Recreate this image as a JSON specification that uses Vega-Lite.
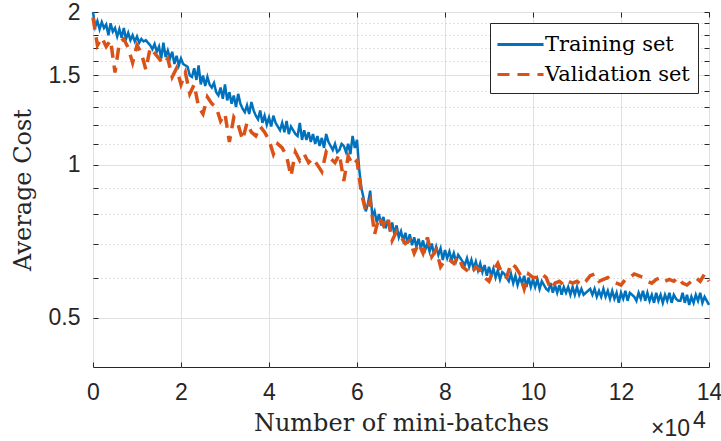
{
  "$schema": "https://vega.github.io/schema/vega-lite/v6.json",
  "width": 616,
  "height": 355,
  "autosize": {"type": "none"},
  "padding": {"left": 93, "top": 12, "right": 12, "bottom": 74},
  "background": "white",
  "config": {
    "view": {"stroke": "#262626", "strokeWidth": 1},
    "axis": {
      "labelFont": "Liberation Sans",
      "labelFontSize": 23,
      "labelColor": "#262626",
      "titleFont": "DejaVu Serif",
      "titleFontSize": 24,
      "titleFontWeight": "normal",
      "titleColor": "#262626",
      "domain": false,
      "tickColor": "#262626",
      "tickWidth": 1,
      "labelOverlap": false,
      "labelFlush": false
    }
  },
  "datasets": {
    "train": [
      {"b": 0, "c": 2.0}, {"b": 0.05, "c": 1.87}, {"b": 0.1, "c": 1.92}, {"b": 0.15, "c": 1.85}, {"b": 0.2, "c": 1.91},
      {"b": 0.25, "c": 1.86}, {"b": 0.3, "c": 1.89}, {"b": 0.35, "c": 1.8}, {"b": 0.4, "c": 1.9}, {"b": 0.45, "c": 1.83},
      {"b": 0.5, "c": 1.86}, {"b": 0.55, "c": 1.79}, {"b": 0.6, "c": 1.85}, {"b": 0.65, "c": 1.78}, {"b": 0.7, "c": 1.86},
      {"b": 0.75, "c": 1.77}, {"b": 0.8, "c": 1.82}, {"b": 0.85, "c": 1.76}, {"b": 0.9, "c": 1.8}, {"b": 0.95, "c": 1.75},
      {"b": 1.0, "c": 1.79}, {"b": 1.05, "c": 1.74}, {"b": 1.1, "c": 1.77}, {"b": 1.15, "c": 1.75}, {"b": 1.2, "c": 1.76},
      {"b": 1.25, "c": 1.74}, {"b": 1.3, "c": 1.72}, {"b": 1.35, "c": 1.69}, {"b": 1.4, "c": 1.73}, {"b": 1.45, "c": 1.67},
      {"b": 1.5, "c": 1.71}, {"b": 1.55, "c": 1.62}, {"b": 1.6, "c": 1.74}, {"b": 1.65, "c": 1.63}, {"b": 1.7, "c": 1.68},
      {"b": 1.75, "c": 1.62}, {"b": 1.8, "c": 1.67}, {"b": 1.85, "c": 1.58}, {"b": 1.9, "c": 1.64}, {"b": 1.95, "c": 1.57},
      {"b": 2.0, "c": 1.62}, {"b": 2.05, "c": 1.58}, {"b": 2.1, "c": 1.57}, {"b": 2.15, "c": 1.56}, {"b": 2.2, "c": 1.5},
      {"b": 2.25, "c": 1.49}, {"b": 2.3, "c": 1.55}, {"b": 2.35, "c": 1.47}, {"b": 2.4, "c": 1.57}, {"b": 2.45, "c": 1.44},
      {"b": 2.5, "c": 1.5}, {"b": 2.55, "c": 1.43}, {"b": 2.6, "c": 1.49}, {"b": 2.65, "c": 1.44}, {"b": 2.7, "c": 1.42},
      {"b": 2.75, "c": 1.45}, {"b": 2.8, "c": 1.39}, {"b": 2.85, "c": 1.37}, {"b": 2.9, "c": 1.42}, {"b": 2.95, "c": 1.35},
      {"b": 3.0, "c": 1.44}, {"b": 3.05, "c": 1.34}, {"b": 3.1, "c": 1.39}, {"b": 3.15, "c": 1.32}, {"b": 3.2, "c": 1.37},
      {"b": 3.25, "c": 1.3}, {"b": 3.3, "c": 1.38}, {"b": 3.35, "c": 1.32}, {"b": 3.4, "c": 1.29}, {"b": 3.45, "c": 1.27},
      {"b": 3.5, "c": 1.31}, {"b": 3.55, "c": 1.26}, {"b": 3.6, "c": 1.33}, {"b": 3.65, "c": 1.28}, {"b": 3.7, "c": 1.25},
      {"b": 3.75, "c": 1.23}, {"b": 3.8, "c": 1.28}, {"b": 3.85, "c": 1.21}, {"b": 3.9, "c": 1.25}, {"b": 3.95, "c": 1.2},
      {"b": 4.0, "c": 1.24}, {"b": 4.05, "c": 1.19}, {"b": 4.1, "c": 1.25}, {"b": 4.15, "c": 1.21}, {"b": 4.2, "c": 1.19},
      {"b": 4.25, "c": 1.17}, {"b": 4.3, "c": 1.21}, {"b": 4.35, "c": 1.16}, {"b": 4.4, "c": 1.22}, {"b": 4.45, "c": 1.15},
      {"b": 4.5, "c": 1.19}, {"b": 4.55, "c": 1.17}, {"b": 4.6, "c": 1.15}, {"b": 4.65, "c": 1.14}, {"b": 4.7, "c": 1.21},
      {"b": 4.75, "c": 1.12}, {"b": 4.8, "c": 1.17}, {"b": 4.85, "c": 1.12}, {"b": 4.9, "c": 1.16}, {"b": 4.95, "c": 1.11},
      {"b": 5.0, "c": 1.15}, {"b": 5.05, "c": 1.1}, {"b": 5.1, "c": 1.14}, {"b": 5.15, "c": 1.09}, {"b": 5.2, "c": 1.13},
      {"b": 5.25, "c": 1.08}, {"b": 5.3, "c": 1.15}, {"b": 5.35, "c": 1.11}, {"b": 5.4, "c": 1.09}, {"b": 5.45, "c": 1.07},
      {"b": 5.5, "c": 1.1}, {"b": 5.55, "c": 1.06}, {"b": 5.6, "c": 1.07}, {"b": 5.65, "c": 1.1}, {"b": 5.7, "c": 1.09},
      {"b": 5.75, "c": 1.06}, {"b": 5.8, "c": 1.1}, {"b": 5.85, "c": 1.05}, {"b": 5.9, "c": 1.14}, {"b": 5.95, "c": 1.08},
      {"b": 6.0, "c": 1.12}, {"b": 6.05, "c": 0.98}, {"b": 6.1, "c": 0.9}, {"b": 6.15, "c": 0.86}, {"b": 6.2, "c": 0.81},
      {"b": 6.25, "c": 0.84}, {"b": 6.3, "c": 0.89}, {"b": 6.35, "c": 0.79}, {"b": 6.4, "c": 0.81}, {"b": 6.45, "c": 0.77},
      {"b": 6.5, "c": 0.8}, {"b": 6.55, "c": 0.76}, {"b": 6.6, "c": 0.79}, {"b": 6.65, "c": 0.75}, {"b": 6.7, "c": 0.78},
      {"b": 6.75, "c": 0.74}, {"b": 6.8, "c": 0.77}, {"b": 6.85, "c": 0.73}, {"b": 6.9, "c": 0.76}, {"b": 6.95, "c": 0.72},
      {"b": 7.0, "c": 0.74}, {"b": 7.05, "c": 0.71}, {"b": 7.1, "c": 0.735}, {"b": 7.15, "c": 0.7}, {"b": 7.2, "c": 0.73},
      {"b": 7.25, "c": 0.695}, {"b": 7.3, "c": 0.72}, {"b": 7.35, "c": 0.69}, {"b": 7.4, "c": 0.715}, {"b": 7.45, "c": 0.685},
      {"b": 7.5, "c": 0.71}, {"b": 7.55, "c": 0.68}, {"b": 7.6, "c": 0.7}, {"b": 7.65, "c": 0.675}, {"b": 7.7, "c": 0.7},
      {"b": 7.75, "c": 0.665}, {"b": 7.8, "c": 0.69}, {"b": 7.85, "c": 0.665}, {"b": 7.9, "c": 0.685}, {"b": 7.95, "c": 0.65},
      {"b": 8.0, "c": 0.68}, {"b": 8.05, "c": 0.655}, {"b": 8.1, "c": 0.675}, {"b": 8.15, "c": 0.65}, {"b": 8.2, "c": 0.67},
      {"b": 8.25, "c": 0.645}, {"b": 8.3, "c": 0.665}, {"b": 8.35, "c": 0.655}, {"b": 8.4, "c": 0.645}, {"b": 8.45, "c": 0.635},
      {"b": 8.5, "c": 0.655}, {"b": 8.55, "c": 0.63}, {"b": 8.6, "c": 0.65}, {"b": 8.65, "c": 0.625}, {"b": 8.7, "c": 0.645},
      {"b": 8.75, "c": 0.62}, {"b": 8.8, "c": 0.64}, {"b": 8.85, "c": 0.615}, {"b": 8.9, "c": 0.635}, {"b": 8.95, "c": 0.605},
      {"b": 9.0, "c": 0.63}, {"b": 9.05, "c": 0.605}, {"b": 9.1, "c": 0.625}, {"b": 9.15, "c": 0.6}, {"b": 9.2, "c": 0.62},
      {"b": 9.25, "c": 0.595}, {"b": 9.3, "c": 0.615}, {"b": 9.35, "c": 0.61}, {"b": 9.4, "c": 0.6}, {"b": 9.45, "c": 0.59},
      {"b": 9.5, "c": 0.61}, {"b": 9.55, "c": 0.585}, {"b": 9.6, "c": 0.605}, {"b": 9.65, "c": 0.58}, {"b": 9.7, "c": 0.6},
      {"b": 9.75, "c": 0.585}, {"b": 9.8, "c": 0.605}, {"b": 9.85, "c": 0.575}, {"b": 9.9, "c": 0.6}, {"b": 9.95, "c": 0.575},
      {"b": 10.0, "c": 0.595}, {"b": 10.05, "c": 0.575}, {"b": 10.1, "c": 0.595}, {"b": 10.15, "c": 0.57}, {"b": 10.2, "c": 0.59},
      {"b": 10.25, "c": 0.58}, {"b": 10.3, "c": 0.57}, {"b": 10.35, "c": 0.565}, {"b": 10.4, "c": 0.585}, {"b": 10.45, "c": 0.56},
      {"b": 10.5, "c": 0.58}, {"b": 10.55, "c": 0.56}, {"b": 10.6, "c": 0.58}, {"b": 10.65, "c": 0.555}, {"b": 10.7, "c": 0.575},
      {"b": 10.75, "c": 0.56}, {"b": 10.8, "c": 0.575}, {"b": 10.85, "c": 0.555}, {"b": 10.9, "c": 0.575}, {"b": 10.95, "c": 0.555},
      {"b": 11.0, "c": 0.575}, {"b": 11.05, "c": 0.555}, {"b": 11.1, "c": 0.57}, {"b": 11.15, "c": 0.555}, {"b": 11.2, "c": 0.56},
      {"b": 11.25, "c": 0.565}, {"b": 11.3, "c": 0.57}, {"b": 11.35, "c": 0.555}, {"b": 11.4, "c": 0.57}, {"b": 11.45, "c": 0.55},
      {"b": 11.5, "c": 0.565}, {"b": 11.55, "c": 0.55}, {"b": 11.6, "c": 0.57}, {"b": 11.65, "c": 0.55}, {"b": 11.7, "c": 0.565},
      {"b": 11.75, "c": 0.545}, {"b": 11.8, "c": 0.565}, {"b": 11.85, "c": 0.545}, {"b": 11.9, "c": 0.56}, {"b": 11.95, "c": 0.535},
      {"b": 12.0, "c": 0.56}, {"b": 12.05, "c": 0.545}, {"b": 12.1, "c": 0.565}, {"b": 12.15, "c": 0.54}, {"b": 12.2, "c": 0.56},
      {"b": 12.25, "c": 0.555}, {"b": 12.3, "c": 0.55}, {"b": 12.35, "c": 0.54}, {"b": 12.4, "c": 0.56}, {"b": 12.45, "c": 0.545},
      {"b": 12.5, "c": 0.565}, {"b": 12.55, "c": 0.54}, {"b": 12.6, "c": 0.56}, {"b": 12.65, "c": 0.54}, {"b": 12.7, "c": 0.555},
      {"b": 12.75, "c": 0.535}, {"b": 12.8, "c": 0.56}, {"b": 12.85, "c": 0.54}, {"b": 12.9, "c": 0.555}, {"b": 12.95, "c": 0.535},
      {"b": 13.0, "c": 0.555}, {"b": 13.05, "c": 0.54}, {"b": 13.1, "c": 0.56}, {"b": 13.15, "c": 0.535}, {"b": 13.2, "c": 0.555},
      {"b": 13.25, "c": 0.545}, {"b": 13.3, "c": 0.54}, {"b": 13.35, "c": 0.54}, {"b": 13.4, "c": 0.56}, {"b": 13.45, "c": 0.535},
      {"b": 13.5, "c": 0.555}, {"b": 13.55, "c": 0.53}, {"b": 13.6, "c": 0.55}, {"b": 13.65, "c": 0.535}, {"b": 13.7, "c": 0.555},
      {"b": 13.75, "c": 0.54}, {"b": 13.8, "c": 0.56}, {"b": 13.85, "c": 0.535}, {"b": 13.9, "c": 0.55}, {"b": 13.95, "c": 0.54},
      {"b": 14.0, "c": 0.53}
    ],
    "val": [
      {"b": 0, "c": 1.95}, {"b": 0.1, "c": 1.72}, {"b": 0.2, "c": 1.78}, {"b": 0.3, "c": 1.71}, {"b": 0.4, "c": 1.76},
      {"b": 0.5, "c": 1.52}, {"b": 0.6, "c": 1.74}, {"b": 0.7, "c": 1.77}, {"b": 0.8, "c": 1.7}, {"b": 0.9, "c": 1.59},
      {"b": 1.0, "c": 1.72}, {"b": 1.1, "c": 1.66}, {"b": 1.2, "c": 1.54}, {"b": 1.3, "c": 1.7}, {"b": 1.4, "c": 1.66},
      {"b": 1.5, "c": 1.62}, {"b": 1.6, "c": 1.58}, {"b": 1.7, "c": 1.62}, {"b": 1.8, "c": 1.49}, {"b": 1.9, "c": 1.55},
      {"b": 2.0, "c": 1.44}, {"b": 2.1, "c": 1.52}, {"b": 2.2, "c": 1.38}, {"b": 2.3, "c": 1.44}, {"b": 2.4, "c": 1.3},
      {"b": 2.5, "c": 1.26}, {"b": 2.6, "c": 1.36}, {"b": 2.7, "c": 1.32}, {"b": 2.8, "c": 1.3}, {"b": 2.9, "c": 1.22},
      {"b": 3.0, "c": 1.26}, {"b": 3.1, "c": 1.11}, {"b": 3.2, "c": 1.24}, {"b": 3.3, "c": 1.2}, {"b": 3.4, "c": 1.12},
      {"b": 3.5, "c": 1.21}, {"b": 3.6, "c": 1.16}, {"b": 3.7, "c": 1.14}, {"b": 3.8, "c": 1.19}, {"b": 3.9, "c": 1.16},
      {"b": 4.0, "c": 1.12}, {"b": 4.1, "c": 1.05}, {"b": 4.2, "c": 1.1}, {"b": 4.3, "c": 1.08}, {"b": 4.4, "c": 1.04},
      {"b": 4.5, "c": 0.95}, {"b": 4.6, "c": 1.06}, {"b": 4.7, "c": 1.02}, {"b": 4.8, "c": 1.05}, {"b": 4.9, "c": 1.01},
      {"b": 5.0, "c": 1.03}, {"b": 5.1, "c": 1.0}, {"b": 5.2, "c": 0.97}, {"b": 5.3, "c": 1.06}, {"b": 5.4, "c": 1.03},
      {"b": 5.5, "c": 1.01}, {"b": 5.6, "c": 1.05}, {"b": 5.7, "c": 0.93}, {"b": 5.8, "c": 1.04}, {"b": 5.9, "c": 1.0},
      {"b": 6.0, "c": 1.02}, {"b": 6.1, "c": 0.88}, {"b": 6.2, "c": 0.81}, {"b": 6.3, "c": 0.85}, {"b": 6.4, "c": 0.73},
      {"b": 6.5, "c": 0.79}, {"b": 6.6, "c": 0.76}, {"b": 6.7, "c": 0.79}, {"b": 6.8, "c": 0.71}, {"b": 6.9, "c": 0.74},
      {"b": 7.0, "c": 0.72}, {"b": 7.1, "c": 0.7}, {"b": 7.2, "c": 0.71}, {"b": 7.3, "c": 0.67}, {"b": 7.4, "c": 0.7},
      {"b": 7.5, "c": 0.67}, {"b": 7.6, "c": 0.72}, {"b": 7.7, "c": 0.66}, {"b": 7.8, "c": 0.68}, {"b": 7.9, "c": 0.63},
      {"b": 8.0, "c": 0.65}, {"b": 8.1, "c": 0.65}, {"b": 8.2, "c": 0.64}, {"b": 8.3, "c": 0.66}, {"b": 8.4, "c": 0.63},
      {"b": 8.5, "c": 0.62}, {"b": 8.6, "c": 0.61}, {"b": 8.7, "c": 0.63}, {"b": 8.8, "c": 0.62}, {"b": 8.9, "c": 0.6},
      {"b": 9.0, "c": 0.59}, {"b": 9.1, "c": 0.62}, {"b": 9.2, "c": 0.64}, {"b": 9.3, "c": 0.61}, {"b": 9.4, "c": 0.6},
      {"b": 9.5, "c": 0.64}, {"b": 9.6, "c": 0.63}, {"b": 9.7, "c": 0.61}, {"b": 9.8, "c": 0.57}, {"b": 9.9, "c": 0.61},
      {"b": 10.0, "c": 0.6}, {"b": 10.1, "c": 0.6}, {"b": 10.2, "c": 0.61}, {"b": 10.3, "c": 0.6}, {"b": 10.4, "c": 0.57},
      {"b": 10.5, "c": 0.585}, {"b": 10.6, "c": 0.59}, {"b": 10.7, "c": 0.58}, {"b": 10.8, "c": 0.59}, {"b": 10.9, "c": 0.585},
      {"b": 11.0, "c": 0.59}, {"b": 11.1, "c": 0.58}, {"b": 11.2, "c": 0.59}, {"b": 11.3, "c": 0.605}, {"b": 11.4, "c": 0.61},
      {"b": 11.5, "c": 0.59}, {"b": 11.6, "c": 0.595}, {"b": 11.7, "c": 0.6}, {"b": 11.8, "c": 0.59}, {"b": 11.9, "c": 0.585},
      {"b": 12.0, "c": 0.58}, {"b": 12.1, "c": 0.595}, {"b": 12.2, "c": 0.6}, {"b": 12.3, "c": 0.61}, {"b": 12.4, "c": 0.605},
      {"b": 12.5, "c": 0.6}, {"b": 12.6, "c": 0.59}, {"b": 12.7, "c": 0.585}, {"b": 12.8, "c": 0.595}, {"b": 12.9, "c": 0.6},
      {"b": 13.0, "c": 0.59}, {"b": 13.1, "c": 0.595}, {"b": 13.2, "c": 0.59}, {"b": 13.3, "c": 0.6}, {"b": 13.4, "c": 0.585},
      {"b": 13.5, "c": 0.58}, {"b": 13.6, "c": 0.59}, {"b": 13.7, "c": 0.6}, {"b": 13.8, "c": 0.59}, {"b": 13.9, "c": 0.61},
      {"b": 14.0, "c": 0.59}
    ]
  },
  "layer": [
    {
      "data": {"name": "train"},
      "mark": {"type": "line", "strokeWidth": 2.5, "strokeJoin": "miter"},
      "encoding": {
        "x": {
          "field": "b", "type": "quantitative",
          "scale": {"domain": [0, 14], "nice": false, "zero": false},
          "axis": {
            "orient": "bottom",
            "values": [0, 2, 4, 6, 8, 10, 12, 14],
            "grid": true, "gridColor": "#e0e0e0",
            "tickSize": -5, "labelPadding": 19,
            "title": "Number of mini-batches", "titlePadding": 7
          }
        },
        "y": {
          "field": "c", "type": "quantitative",
          "scale": {"type": "log", "domain": [0.4, 2], "nice": false, "zero": false},
          "axis": {
            "orient": "left",
            "values": [0.5, 0.6, 0.7, 0.8, 0.9, 1, 1.1, 1.2, 1.3, 1.4, 1.5, 1.6, 1.7, 1.8, 1.9, 2],
            "labelExpr": "indexof([0.5, 1, 1.5, 2], datum.value) >= 0 ? format(datum.value, '~g') : ''",
            "grid": true,
            "gridDash": {"condition": {"test": "indexof([0.5, 1, 1.5, 2], datum.value) < 0", "value": [1, 3]}, "value": []},
            "gridColor": {"condition": {"test": "indexof([0.5, 1, 1.5, 2], datum.value) < 0", "value": "#c4c4c4"}, "value": "#e0e0e0"},
            "tickSize": -5, "labelPadding": 18,
            "title": "Average Cost", "titlePadding": 13
          }
        },
        "color": {
          "datum": "Training set", "type": "nominal",
          "scale": {"domain": ["Training set", "Validation set"], "range": ["#0072BD", "#D95319"]},
          "legend": {
            "orient": "top-right", "offset": 11, "title": null,
            "labelFont": "DejaVu Serif", "labelFontSize": 21, "labelColor": "#000000", "labelLimit": 400,
            "symbolType": "M-1.17,0H2.67", "symbolSize": 576, "symbolStrokeWidth": 3,
            "labelOffset": 20, "padding": 8, "rowPadding": 6,
            "strokeColor": "#262626", "fillColor": "white", "cornerRadius": 0
          }
        },
        "strokeDash": {
          "datum": "Training set", "type": "nominal",
          "scale": {"domain": ["Training set", "Validation set"], "range": [[1, 0], [12, 8]]},
          "legend": {
            "orient": "top-right", "offset": 11, "title": null,
            "labelFont": "DejaVu Serif", "labelFontSize": 21, "labelColor": "#000000", "labelLimit": 400,
            "symbolType": "M-1.17,0H2.67", "symbolSize": 576, "symbolStrokeWidth": 3,
            "labelOffset": 20, "padding": 8, "rowPadding": 6,
            "strokeColor": "#262626", "fillColor": "white", "cornerRadius": 0
          }
        }
      }
    },
    {
      "data": {"name": "val"},
      "mark": {"type": "line", "strokeWidth": 3.5, "strokeJoin": "miter", "strokeCap": "butt"},
      "encoding": {
        "x": {"field": "b", "type": "quantitative", "scale": {"domain": [0, 14], "nice": false, "zero": false}, "axis": null},
        "y": {"field": "c", "type": "quantitative", "scale": {"type": "log", "domain": [0.4, 2], "nice": false, "zero": false}, "axis": null},
        "color": {"datum": "Validation set", "type": "nominal"},
        "strokeDash": {"datum": "Validation set", "type": "nominal"}
      }
    },
    {
      "data": {"name": "train"},
      "mark": {"type": "line", "opacity": 0},
      "encoding": {
        "x": {
          "field": "b", "type": "quantitative",
          "scale": {"domain": [0, 14], "nice": false, "zero": false},
          "axis": {"orient": "top", "values": [0, 2, 4, 6, 8, 10, 12, 14], "labels": false, "grid": false, "tickSize": -5, "title": null}
        },
        "y": {
          "field": "c", "type": "quantitative",
          "scale": {"type": "log", "domain": [0.4, 2], "nice": false, "zero": false},
          "axis": {"orient": "right", "values": [0.5, 0.6, 0.7, 0.8, 0.9, 1, 1.1, 1.2, 1.3, 1.4, 1.5, 1.6, 1.7, 1.8, 1.9, 2], "labels": false, "grid": false, "tickSize": -5, "title": null}
        }
      }
    },
    {
      "data": {"values": [{"t": "×10"}]},
      "mark": {"type": "text", "align": "right", "baseline": "alphabetic", "dx": -19, "dy": 69, "font": "Liberation Sans", "fontSize": 23, "color": "#262626"},
      "encoding": {
        "x": {"datum": 14, "type": "quantitative", "scale": {"domain": [0, 14], "nice": false, "zero": false}, "axis": null},
        "y": {"datum": 0.4, "type": "quantitative", "scale": {"type": "log", "domain": [0.4, 2], "nice": false, "zero": false}, "axis": null},
        "text": {"field": "t"}
      }
    },
    {
      "data": {"values": [{"t": "4"}]},
      "mark": {"type": "text", "align": "left", "baseline": "alphabetic", "dx": -16, "dy": 61, "font": "Liberation Sans", "fontSize": 23, "color": "#262626"},
      "encoding": {
        "x": {"datum": 14, "type": "quantitative", "scale": {"domain": [0, 14], "nice": false, "zero": false}, "axis": null},
        "y": {"datum": 0.4, "type": "quantitative", "scale": {"type": "log", "domain": [0.4, 2], "nice": false, "zero": false}, "axis": null},
        "text": {"field": "t"}
      }
    }
  ],
  "resolve": {"axis": {"x": "independent", "y": "independent"}}
}
